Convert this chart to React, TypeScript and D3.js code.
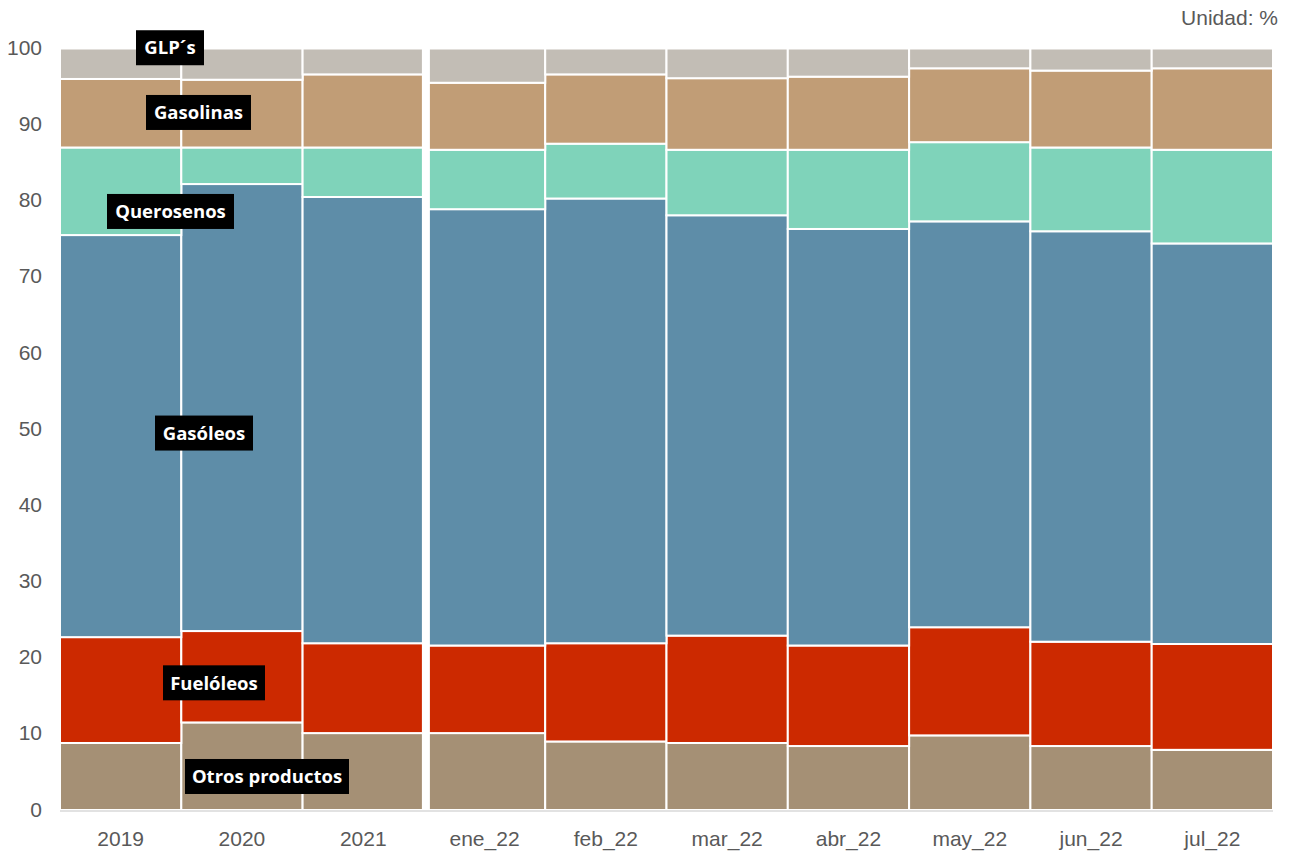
import React from "react";
import * as d3 from "d3";

const categories = ["2019", "2020", "2021", "ene_22", "feb_22", "mar_22", "abr_22", "may_22", "jun_22", "jul_22"];
const otros = [8.8, 11.5, 10.1, 10.1, 9.0, 8.8, 8.4, 9.8, 8.4, 7.9];
const fueloleos = [13.9, 12.0, 11.8, 11.5, 12.9, 14.1, 13.2, 14.2, 13.7, 13.9];
const gasoleos = [52.8, 58.7, 58.6, 57.3, 58.4, 55.2, 54.7, 53.3, 53.9, 52.6];
const querosenos = [11.5, 4.8, 6.5, 7.8, 7.2, 8.6, 10.4, 10.4, 11.0, 12.3];
const gasolinas = [9.0, 8.9, 9.6, 8.8, 9.1, 9.4, 9.6, 9.7, 10.1, 10.7];
const glps = [4.0, 4.1, 3.4, 4.5, 3.4, 3.9, 3.7, 2.6, 2.9, 2.6];
const yTicks = [0, 10, 20, 30, 40, 50, 60, 70, 80, 90, 100];

const seriesNames = ["Otros productos", "Fuelóleos", "Gasóleos", "Querosenos", "Gasolinas", "GLP´s"];
const seriesValues = [otros, fueloleos, gasoleos, querosenos, gasolinas, glps];
const seriesColors = ["#A59075", "#CC2900", "#5E8DA8", "#7FD3BA", "#C19D76", "#C2BDB5"];

// label annotations: [name, center x (px), center y (value), box width]
const labelCfg: [string, number, number, number][] = [
  ["GLP´s", 170, 100.1, 68],
  ["Gasolinas", 198.5, 91.6, 105],
  ["Querosenos", 170.5, 78.6, 127],
  ["Gasóleos", 204, 49.5, 98],
  ["Fuelóleos", 214, 16.7, 102],
  ["Otros productos", 267, 4.4, 164],
];

export default function App() {
  const W = 1293, H = 852;
  const left = 60, right = 1273, top = 48.5, bottom = 810;
  const x = d3.scaleBand<string>().domain(categories).range([left, right]).paddingInner(0).paddingOuter(0);
  const y = d3.scaleLinear().domain([0, 100]).range([bottom, top]);

  const rows = categories.map((c, i) => {
    const o: any = { cat: c };
    seriesNames.forEach((n, k) => (o[n] = seriesValues[k][i]));
    return o;
  });
  const stacked = d3.stack<any>().keys(seriesNames)(rows);

  const gapX = x("ene_22")! - 2;
  const font = "Arial, 'Liberation Sans', sans-serif";

  return (
    <svg width={W} height={H} style={{ position: "absolute", left: 0, top: 0, background: "#fff" }}>
      <rect x={0} y={0} width={W} height={H} fill="#fff" />
      {stacked.map((layer, k) => (
        <g key={seriesNames[k]}>
          {layer.map((d, i) => (
            <rect
              key={i}
              x={x(categories[i])!}
              y={y(d[1])}
              width={x.bandwidth()}
              height={y(d[0]) - y(d[1])}
              fill={seriesColors[k]}
              stroke="#fff"
              strokeWidth={2}
            />
          ))}
        </g>
      ))}
      <rect x={gapX} y={top - 2} width={8} height={bottom - top + 2} fill="#fff" />
      <line x1={left} x2={right} y1={bottom + 1} y2={bottom + 1} stroke="#D9D9D9" strokeWidth={1.5} />
      {yTicks.map((t) => (
        <text key={t} x={42} y={y(t) + 1} textAnchor="end" dominantBaseline="middle" fontFamily={font} fontSize={21} fill="#595959">
          {t}
        </text>
      ))}
      {categories.map((c) => (
        <text key={c} x={x(c)! + x.bandwidth() / 2} y={846} textAnchor="middle" fontFamily={font} fontSize={21} fill="#595959">
          {c}
        </text>
      ))}
      <text x={1278} y={25} textAnchor="end" fontFamily={font} fontSize={21} fill="#595959">
        Unidad: %
      </text>
      {labelCfg.map(([name, cx, v, w]) => {
        const cy = y(v);
        return (
          <g key={name}>
            <rect x={cx - w / 2} y={cy - 17.5} width={w} height={35} fill="#000" />
            <text x={cx} y={cy + 6.7} textAnchor="middle" fontFamily="'Open Sans', sans-serif" fontWeight={700} fontSize={18.5} fill="#fff">
              {name}
            </text>
          </g>
        );
      })}
    </svg>
  );
}
